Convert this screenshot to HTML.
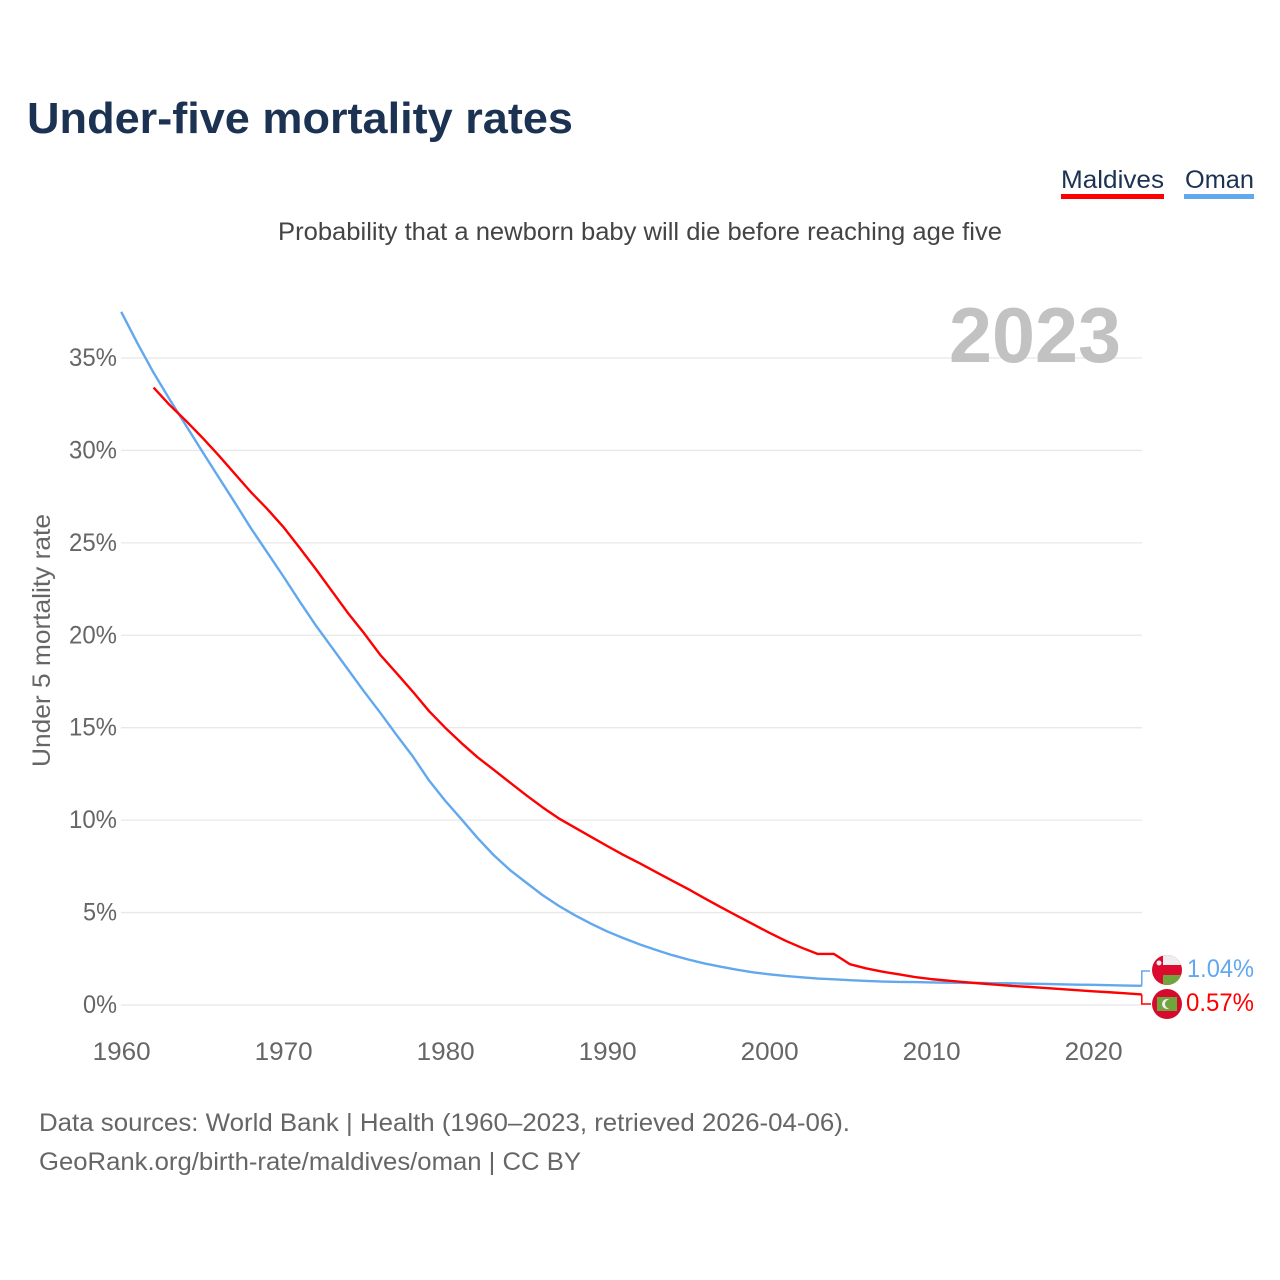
<!DOCTYPE html>
<html lang="en">
<head>
<meta charset="utf-8">
<title>Under-five mortality rates</title>
<style>
html,body{margin:0;padding:0;background:#fff;width:1280px;height:1280px;overflow:hidden}
svg{display:block}
text{font-family:"Liberation Sans",sans-serif}
</style>
</head>
<body>
<svg id="chart" width="1280" height="1280" viewBox="0 0 1280 1280" xmlns="http://www.w3.org/2000/svg">
  <defs>
    <clipPath id="clip-oman"><circle cx="1167" cy="970" r="15"/></clipPath>
    <clipPath id="clip-maldives"><circle cx="1167" cy="1004" r="15"/></clipPath>
  </defs>
  <text x="27" y="133" font-size="44" font-weight="700" fill="#1b3252" textLength="546" lengthAdjust="spacingAndGlyphs">Under-five mortality rates</text>
  <text x="1061" y="188" font-size="25" fill="#1b3252" textLength="103" lengthAdjust="spacingAndGlyphs">Maldives</text>
  <rect x="1061" y="194" width="103" height="5" fill="#ff0000"/>
  <text x="1185" y="188" font-size="25" fill="#1b3252" textLength="69" lengthAdjust="spacingAndGlyphs">Oman</text>
  <rect x="1184" y="194" width="70" height="5" fill="#61a8ee"/>
  <text x="278" y="240" font-size="25" fill="#444444" textLength="724" lengthAdjust="spacingAndGlyphs">Probability that a newborn baby will die before reaching age five</text>
  <g id="grid"></g>
  <text x="949" y="362" font-size="78" font-weight="700" fill="#c2c2c2" textLength="172" lengthAdjust="spacingAndGlyphs">2023</text>
  <g id="yticks"></g>
  <g id="xticks"></g>
  <text transform="translate(50 767) rotate(-90)" x="0" y="0" font-size="25" fill="#666666" textLength="253" lengthAdjust="spacingAndGlyphs">Under 5 mortality rate</text>
  <g id="series"></g>
  <path id="connector-oman" fill="none" stroke="#61a8ee" stroke-width="1.5"/>
  <path id="connector-maldives" fill="none" stroke="#ff0000" stroke-width="1.5"/>
  <g clip-path="url(#clip-oman)">
    <rect x="1152" y="955" width="30" height="30" fill="#db0a2e"/>
    <rect x="1163" y="955" width="19" height="10" fill="#eeeeee"/>
    <rect x="1163" y="975" width="19" height="10" fill="#6fa53c"/>
    <circle cx="1159" cy="963" r="2.5" fill="#eeeeee"/>
  </g>
  <g clip-path="url(#clip-maldives)">
    <rect x="1152" y="989" width="30" height="30" fill="#d60a2e"/>
    <rect x="1157" y="997" width="20" height="14" fill="#6fa53c"/>
    <circle cx="1167" cy="1004" r="5" fill="#eeeeee"/>
    <circle cx="1169.5" cy="1004" r="4.5" fill="#6fa53c"/>
  </g>
  <text id="value-oman" x="1187" y="977" font-size="25" fill="#61a8ee" textLength="67" lengthAdjust="spacingAndGlyphs"></text>
  <text id="value-maldives" x="1186" y="1011" font-size="25" fill="#ff0000" textLength="68" lengthAdjust="spacingAndGlyphs"></text>
  <text x="39" y="1131" font-size="25" fill="#666666" textLength="811" lengthAdjust="spacingAndGlyphs">Data sources: World Bank | Health (1960–2023, retrieved 2026-04-06).</text>
  <text x="39" y="1170" font-size="25" fill="#666666" textLength="542" lengthAdjust="spacingAndGlyphs">GeoRank.org/birth-rate/maldives/oman | CC BY</text>
</svg>
<script>
const yTickValues = [0, 5, 10, 15, 20, 25, 30, 35];
const xTickValues = [1960, 1970, 1980, 1990, 2000, 2010, 2020];
const omanStartYear = 1960;
const omanValues = [37.5, 35.8, 34.2, 32.75, 31.35, 29.95, 28.57, 27.2, 25.8, 24.5,
  23.2, 21.85, 20.55, 19.35, 18.15, 16.95, 15.8, 14.6, 13.45, 12.15,
  11.05, 10.05, 9.03, 8.1, 7.3, 6.62, 5.95, 5.37, 4.86, 4.4,
  3.98, 3.62, 3.28, 2.98, 2.7, 2.46, 2.25, 2.07, 1.91, 1.77,
  1.66, 1.57, 1.5, 1.43, 1.39, 1.34, 1.3, 1.27, 1.25, 1.24,
  1.22, 1.21, 1.2, 1.19, 1.18, 1.17, 1.15, 1.14, 1.12, 1.1,
  1.09, 1.07, 1.05, 1.04];
const maldivesStartYear = 1962;
const maldivesValues = [33.4, 32.45, 31.6, 30.7, 29.75, 28.75, 27.75, 26.85,
  25.87, 24.75, 23.6, 22.4, 21.2, 20.1, 18.93, 17.95, 16.95, 15.9,
  15.0, 14.17, 13.4, 12.72, 12.03, 11.35, 10.7, 10.1, 9.6, 9.1,
  8.6, 8.12, 7.67, 7.2, 6.73, 6.27, 5.78, 5.3, 4.83, 4.37,
  3.91, 3.48, 3.1, 2.76, 2.76, 2.2, 1.98, 1.8, 1.66, 1.51,
  1.4, 1.32, 1.24, 1.17, 1.1, 1.03, 0.98, 0.92, 0.86, 0.8,
  0.74, 0.69, 0.63, 0.57];

const NS = 'http://www.w3.org/2000/svg';
function xScale(year) { return 121.2 + (year - 1960) * 16.2; }
function yScale(value) { return 1005 - value * 18.486; }
function linePath(startYear, values) {
  return values.map(function (v, i) {
    return (i ? 'L' : 'M') + xScale(startYear + i).toFixed(2) + ' ' + yScale(v).toFixed(2);
  }).join('');
}
const grid = document.getElementById('grid');
const yticks = document.getElementById('yticks');
const xticks = document.getElementById('xticks');
const series = document.getElementById('series');

yTickValues.forEach(function (v) {
  const ln = document.createElementNS(NS, 'line');
  
  
  ln.setAttribute('x1', 121);
  ln.setAttribute('x2', 1142);
  ln.setAttribute('y1', yScale(v));
  ln.setAttribute('y2', yScale(v));
  ln.setAttribute('stroke', '#e8e8e8');
  ln.setAttribute('stroke-width', '1.3');
  grid.appendChild(ln);

  const t = document.createElementNS(NS, 'text');
  
  
  const w = v >= 10 ? 48 : 34;
  t.setAttribute('x', 117 - w);
  t.setAttribute('y', yScale(v) + 8);
  t.setAttribute('font-size', '25');
  t.setAttribute('fill', '#666666');
  t.setAttribute('textLength', w);
  t.setAttribute('lengthAdjust', 'spacingAndGlyphs');
  t.textContent = v + '%';
  yticks.appendChild(t);
});

xTickValues.forEach(function (y) {
  const t = document.createElementNS(NS, 'text');
  
  
  t.setAttribute('x', xScale(y) - 28.5);
  t.setAttribute('y', 1060);
  t.setAttribute('font-size', '25');
  t.setAttribute('fill', '#666666');
  t.setAttribute('textLength', '58');
  t.setAttribute('lengthAdjust', 'spacingAndGlyphs');
  t.textContent = y;
  xticks.appendChild(t);
});

const omanLine = document.createElementNS(NS, 'path');


omanLine.setAttribute('d', linePath(omanStartYear, omanValues));
omanLine.setAttribute('fill', 'none');
omanLine.setAttribute('stroke', '#61a8ee');
omanLine.setAttribute('stroke-width', '2.4');
omanLine.setAttribute('stroke-linejoin', 'round');
series.appendChild(omanLine);

const maldivesLine = document.createElementNS(NS, 'path');


maldivesLine.setAttribute('d', linePath(maldivesStartYear, maldivesValues));
maldivesLine.setAttribute('fill', 'none');
maldivesLine.setAttribute('stroke', '#ff0000');
maldivesLine.setAttribute('stroke-width', '2.4');
maldivesLine.setAttribute('stroke-linejoin', 'round');
series.appendChild(maldivesLine);

const omanLast = omanValues[omanValues.length - 1];
const maldivesLast = maldivesValues[maldivesValues.length - 1];
document.getElementById('connector-oman').setAttribute('d', 'M' + xScale(2023) + ' ' + yScale(omanLast) + 'V971H1150');
document.getElementById('connector-maldives').setAttribute('d', 'M' + xScale(2023) + ' ' + yScale(maldivesLast) + 'V1004H1151');
document.getElementById('value-oman').textContent = omanLast.toFixed(2) + '%';
document.getElementById('value-maldives').textContent = maldivesLast.toFixed(2) + '%';
</script>
</body>
</html>
